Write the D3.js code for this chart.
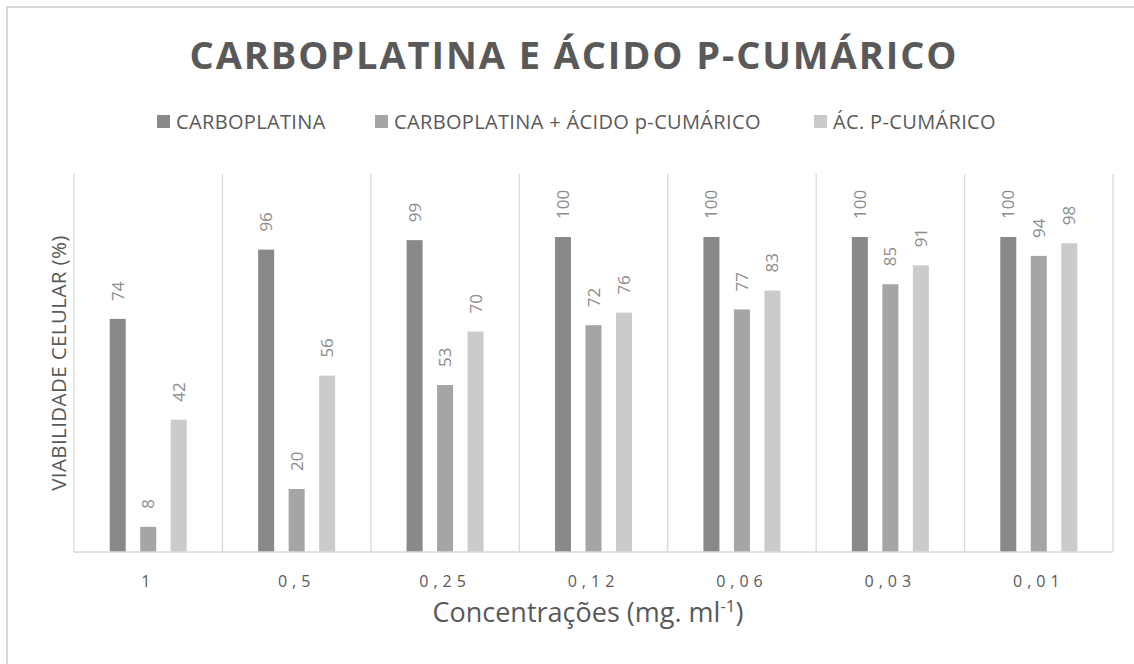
<!DOCTYPE html>
<html>
<head>
<meta charset="utf-8">
<script src="https://cdn.jsdelivr.net/npm/d3@7"></script>
<style>
  html, body { margin: 0; padding: 0; background: #ffffff; }
  svg { display: block; }
  text { font-family: "Open Sans", "Noto Sans", sans-serif; }
</style>
</head>
<body>
<svg id="chart" width="1134" height="664"></svg>
<script>
// ---------- data ----------
const categories = ["1", "0,5", "0,25", "0,12", "0,06", "0,03", "0,01"];
const seriesNames = ["CARBOPLATINA", "CARBOPLATINA + ÁCIDO p-CUMÁRICO", "ÁC. P-CUMÁRICO"];
const carboplatina = [74, 96, 99, 100, 100, 100, 100];
const carboAcido = [8, 20, 53, 72, 77, 85, 94];
const acidoCumarico = [42, 56, 70, 76, 83, 91, 98];
const seriesValues = [carboplatina, carboAcido, acidoCumarico];
const seriesColors = ["#898989", "#a5a5a5", "#cbcbcb"];
const titleText = "CARBOPLATINA E ÁCIDO P-CUMÁRICO";
const yTitle = "VIABILIDADE CELULAR (%)";

// ---------- layout ----------
const svg = d3.select("#chart");
const plot = { left: 74, right: 1113, top: 174, bottom: 552 };
const textColor = "#595959";
const gridColor = "#d9d9d9";

// outer border (only top/left visible)
svg.append("rect")
  .attr("x", 7).attr("y", 7).attr("width", 1140).attr("height", 670)
  .attr("fill", "none").attr("stroke", gridColor).attr("stroke-width", 2);

// scales
const x0 = d3.scaleBand().domain(categories).range([plot.left, plot.right]).padding(0);
const x1 = d3.scaleBand().domain(d3.range(seriesNames.length))
  .range([-45.75, 45.75]).paddingInner(0.475).paddingOuter(0.2375);
const y = d3.scaleLinear().domain([0, 120]).range([plot.bottom, plot.top]);

// vertical category separators
const sepPositions = categories.map(c => x0(c)).concat([plot.right]);
svg.append("g").selectAll("line").data(sepPositions).join("line")
  .attr("x1", d => d).attr("x2", d => d)
  .attr("y1", plot.top).attr("y2", plot.bottom)
  .attr("stroke", gridColor).attr("stroke-width", 1.3);

// bars
const flat = [];
seriesValues.forEach((vals, si) => vals.forEach((v, ci) => flat.push({ si, ci, v })));
const cx = d => x0(categories[d.ci]) + x0.bandwidth() / 2 + x1(d.si) + x1.bandwidth() / 2;

svg.append("g").selectAll("rect").data(flat).join("rect")
  .attr("x", d => cx(d) - x1.bandwidth() / 2)
  .attr("width", x1.bandwidth())
  .attr("y", d => y(d.v))
  .attr("height", d => y(0) - y(d.v))
  .attr("fill", d => seriesColors[d.si]);

// value labels (rotated)
svg.append("g").selectAll("text").data(flat).join("text")
  .attr("transform", d => `translate(${cx(d) + 6},${y(d.v) - 18}) rotate(-90)`)
  .attr("text-anchor", "start")
  .attr("font-size", 17)
  .attr("fill", "#8c8c8c")
  .text(d => d.v);

// x axis baseline
svg.append("line")
  .attr("x1", plot.left).attr("x2", plot.right)
  .attr("y1", plot.bottom).attr("y2", plot.bottom)
  .attr("stroke", gridColor).attr("stroke-width", 1.5);

// x axis tick labels
const xAxis = d3.axisBottom(x0).tickSize(0).tickPadding(0);
const gx = svg.append("g").attr("transform", `translate(0,${plot.bottom})`).call(xAxis);
gx.select(".domain").remove();
gx.selectAll("text")
  .attr("y", 35).attr("dy", 0)
  .attr("font-size", 16)
  .attr("font-family", "'Open Sans', sans-serif")
  .attr("letter-spacing", "5px")
  .attr("fill", textColor);

// title
svg.append("text")
  .attr("x", 574).attr("y", 69)
  .attr("text-anchor", "middle")
  .attr("font-size", 38).attr("font-weight", "bold")
  .attr("letter-spacing", "1.9px")
  .attr("fill", textColor)
  .text(titleText);

// legend
const legendX = [157, 375, 814];
const lg = svg.append("g").selectAll("g").data(seriesNames).join("g")
  .attr("transform", (d, i) => `translate(${legendX[i]},0)`);
lg.append("rect").attr("x", 0).attr("y", 115).attr("width", 13).attr("height", 13)
  .attr("fill", (d, i) => seriesColors[i]);
lg.append("text").attr("x", 19).attr("y", 129)
  .attr("font-size", 20).attr("letter-spacing", "0.35px")
  .attr("fill", textColor).text(d => d);

// y axis title
svg.append("text")
  .attr("transform", `translate(66,${(plot.top + plot.bottom) / 2}) rotate(-90)`)
  .attr("text-anchor", "middle")
  .attr("font-size", 20.5).attr("letter-spacing", "0.4px")
  .attr("fill", textColor)
  .text(yTitle);

// x axis title with superscript
const xt = svg.append("text")
  .attr("x", 588).attr("y", 622)
  .attr("text-anchor", "middle")
  .attr("font-size", 27).attr("fill", textColor);
xt.append("tspan").text("Concentrações (mg. ml");
xt.append("tspan").attr("font-size", 17).attr("dy", -10).text("-1");
xt.append("tspan").attr("dy", 10).text(")");
</script>
</body>
</html>
